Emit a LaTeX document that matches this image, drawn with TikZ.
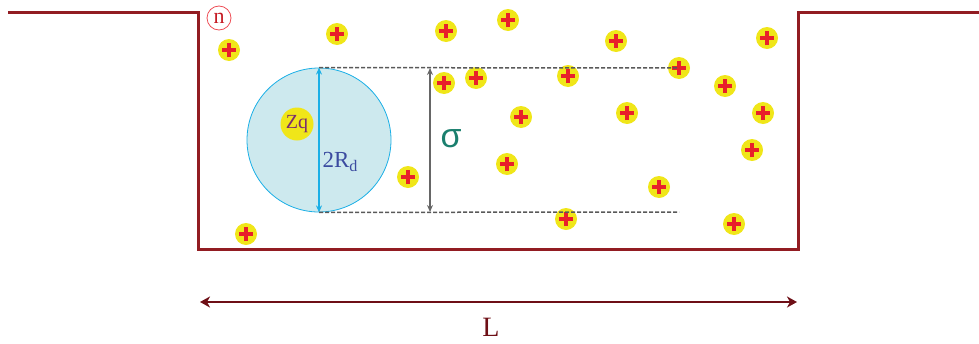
\documentclass[tikz,border=0pt]{standalone}
\usepackage{amsmath}
\usepackage{fontspec}
\setmainfont{Liberation Serif}
\usepackage{tikz}
\usetikzlibrary{arrows.meta, positioning, calc}

\newfontfamily\greekfont{Liberation Sans}

\definecolor{wallred}{HTML}{921C22}
\definecolor{Lred}{HTML}{6E0F16}
\definecolor{ionyellow}{HTML}{F0E619}
\definecolor{plusred}{HTML}{E8202A}
\definecolor{dropfill}{HTML}{CDE9EE}
\definecolor{dropline}{HTML}{1AAFE6}
\definecolor{sigteal}{HTML}{1A7F6E}
\definecolor{rdblue}{HTML}{3B4BA0}
\definecolor{zqpurple}{HTML}{7A2E6E}

\tikzset{
  ion/.style={circle, fill=ionyellow, minimum size=22pt, inner sep=0pt,
    path picture={\draw[plusred, line width=3.3pt]
      ([xshift=-7pt]path picture bounding box.center) -- ([xshift=7pt]path picture bounding box.center)
      ([yshift=-7pt]path picture bounding box.center) -- ([yshift=7pt]path picture bounding box.center);}},
  wall/.style={wallred, line width=3pt},
  guide/.style={black!65, line width=1.5pt, dash pattern=on 4pt off 2pt}
}

\begin{document}
\begin{tikzpicture}[>={Stealth[length=8pt, width=7pt]}, x=1pt, y=-1pt]
  \useasboundingbox (0,0) rectangle (979,343);
  % channel walls
  \coordinate (wl) at (8,12);
  \coordinate (wtl) at (198,12);
  \coordinate (wbl) at (198,249);
  \coordinate (wbr) at (798,249);
  \coordinate (wtr) at (798,12);
  \coordinate (wr) at (979,12);
  \draw[wall] (wl) -- (wtl) -- (wbl) -- (wbr) -- (wtr) -- (wr);
  % counter ions
  \foreach \x/\y [count=\k] in {229/50, 337/34, 446/31, 508/20, 616/41, 767/38,
      444/83, 476/78, 568/76, 679/68, 725/86, 763/113, 521/117, 627/113,
      507/164, 408/177, 752/150, 659/187, 566/219, 734/224, 246/234}
    \node[ion] (ion\k) at (\x,\y) {};
  \node[circle, draw=plusred!80, line width=0.8pt, minimum size=24pt, inner sep=0pt,
    text=plusred!85!black, font=\fontsize{22}{22}\selectfont] (n) at (219,18) {n};
  % droplet
  \node[circle, fill=dropfill, draw=dropline, line width=0.8pt, minimum size=144pt, inner sep=0pt] (drop) at (319,140) {};
  \node[circle, fill=ionyellow, minimum size=33pt, inner sep=0pt, text=zqpurple,
    font=\fontsize{20}{20}\selectfont] (zq) at (297,124) {Zq};
  \draw[<->, dropline, line width=1.5pt, >={Stealth[length=7pt, width=6pt]}] (drop.south) -- (drop.north);
  \node[text=rdblue, font=\fontsize{23}{23}\selectfont, right=0pt of drop.center, yshift=-22pt] (rd) {2R\textsubscript{d}};
  % sigma
  \coordinate (gt) at (679,68);
  \coordinate (gb) at (679,212);
  \coordinate (st) at (430,68);
  \coordinate (sb) at (430,212);
  \draw[guide] (drop.north) -- (gt);
  \draw[guide] (drop.south) -- (gb);
  \draw[<->, black!60, line width=1.3pt, >={Stealth[length=7pt, width=6pt]}] (sb) -- (st);
  \node[text=sigteal, font=\greekfont\fontsize{34}{34}\selectfont] (sig) at (451,139) {σ};
  % length
  \coordinate (la) at (200,302);
  \coordinate (lb) at (797,302);
  \draw[<->, Lred, line width=2.5pt, >={Stealth[length=10pt, width=11pt, inset=3pt]}] (la) -- (lb);
  \node[text=Lred, font=\fontsize{28}{28}\selectfont] (L) at (491,327) {L};
\end{tikzpicture}
\end{document}
